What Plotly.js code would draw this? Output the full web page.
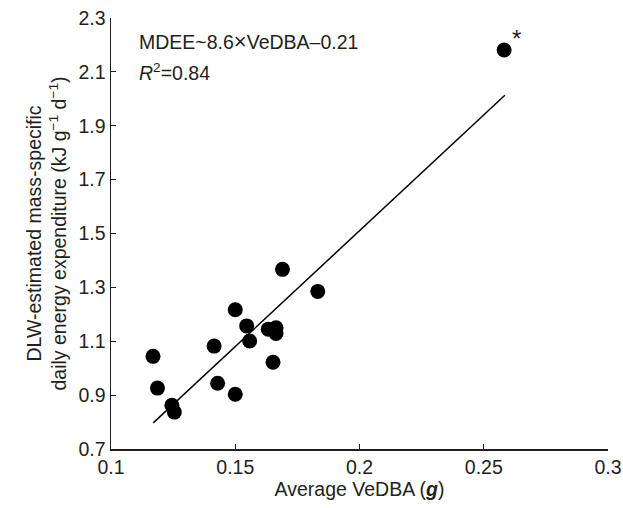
<!DOCTYPE html>
<html>
<head>
<meta charset="utf-8">
<script src="https://cdn.plot.ly/plotly-3.0.1.min.js"></script>
<style>html,body{margin:0;padding:0;background:#fff;}#chart{width:623px;height:508px;}</style>
</head>
<body>
<div id="chart"></div>
<script>
// Observed data (average VeDBA in g, DLW mass-specific DEE in kJ g^-1 d^-1)
var vedba = [0.1169, 0.1187, 0.1245, 0.1255, 0.1415, 0.1429, 0.1500, 0.1500, 0.1546, 0.1558, 0.1633, 0.1664, 0.1664, 0.1652, 0.1690, 0.1832, 0.2582];
var mdee  = [1.044, 0.926, 0.862, 0.837, 1.082, 0.944, 1.217, 0.903, 1.157, 1.101, 1.145, 1.150, 1.129, 1.022, 1.367, 1.285, 2.181];
// Regression line end points
var fitX = [0.117, 0.2585];
var fitY = [0.797, 2.013];
var xTicks = [0.1, 0.15, 0.2, 0.25, 0.3];
var xTickText = ['0.1', '0.15', '0.2', '0.25', '0.3'];
var yTicks = [0.7, 0.9, 1.1, 1.3, 1.5, 1.7, 1.9, 2.1, 2.3];
var yTickText = ['0.7', '0.9', '1.1', '1.3', '1.5', '1.7', '1.9', '2.1', '2.3'];
var eqText = 'MDEE~8.6<span style="font-size:22px">\u00D7</span>VeDBA\u20130.21';
var r2Text = '<i>R</i><sup>2</sup>=0.84';
var outlierMark = '*';

var ink = '#231f20';
var font = 'Arial, "Liberation Sans", Helvetica, sans-serif';
var fs = 19.5;

var traces = [
  {x: fitX, y: fitY, mode: 'lines', type: 'scatter', line: {color: '#000', width: 1.5}, hoverinfo: 'skip', showlegend: false},
  {x: vedba, y: mdee, mode: 'markers', type: 'scatter', marker: {color: '#000', size: 15, line: {width: 0}}, showlegend: false}
];

var layout = {
  width: 623, height: 508,
  margin: {l: 111, r: 15, t: 18, b: 59},
  paper_bgcolor: '#fff', plot_bgcolor: '#fff',
  font: {family: font, size: fs, color: ink},
  showlegend: false,
  xaxis: {
    range: [0.1, 0.3], tickvals: xTicks, ticktext: xTickText,
    ticks: 'inside', ticklen: 5, tickwidth: 1.2, tickcolor: ink,
    showline: true, linecolor: ink, linewidth: 1.5, showgrid: false, zeroline: false,
    tickfont: {family: font, size: fs, color: ink},
    title: {text: 'Average VeDBA (<b><i>g</i></b>)', font: {family: font, size: fs, color: ink}, standoff: 2}
  },
  yaxis: {
    range: [0.7, 2.3], tickvals: yTicks, ticktext: yTickText,
    ticks: 'inside', ticklen: 5, tickwidth: 1.2, tickcolor: ink,
    showline: true, linecolor: ink, linewidth: 1.5, showgrid: false, zeroline: false,
    tickfont: {family: font, size: fs, color: ink},
    title: {text: 'DLW-estimated mass-specific<br>daily energy expenditure (kJ g<sup>\u22121</sup> d<sup>\u22121</sup>)', font: {family: font, size: fs, color: ink}, standoff: 6}
  },
  annotations: [
    {x: 0.1105, y: 2.214, xref: 'x', yref: 'y', text: eqText, showarrow: false, xanchor: 'left', yanchor: 'middle', font: {family: font, size: fs, color: ink}},
    {x: 0.1105, y: 2.099, xref: 'x', yref: 'y', text: r2Text, showarrow: false, xanchor: 'left', yanchor: 'middle', font: {family: font, size: fs, color: ink}},
    {x: 0.2633, y: 2.225, xref: 'x', yref: 'y', text: outlierMark, showarrow: false, xanchor: 'center', yanchor: 'middle', font: {family: font, size: 24, color: ink}}
  ]
};

Plotly.newPlot('chart', traces, layout, {displayModeBar: false, staticPlot: true});
</script>
</body>
</html>
